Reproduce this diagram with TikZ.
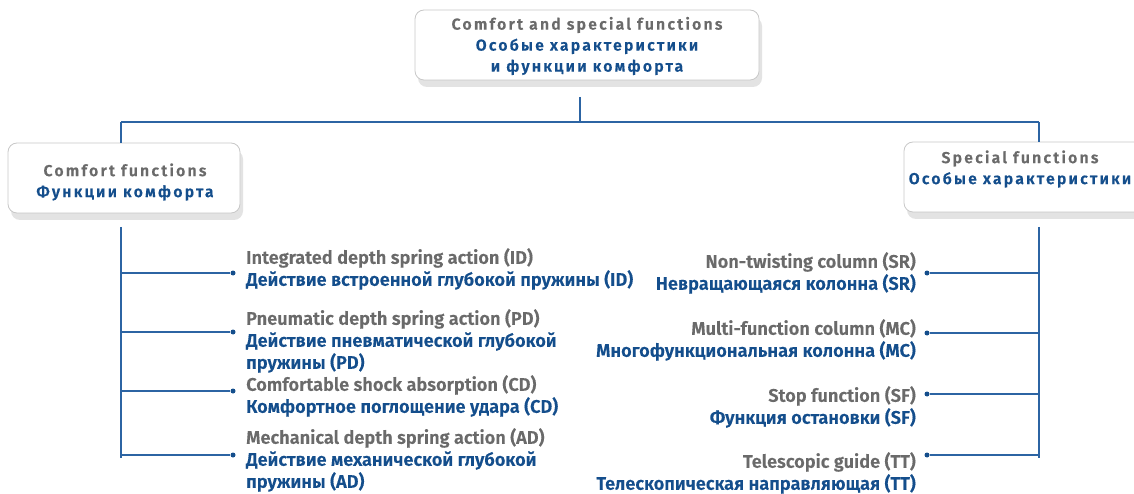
\documentclass[tikz,border=0pt]{standalone}
\usepackage{fontspec}
\setmainfont{Fira Sans}
\usetikzlibrary{shadows}
\definecolor{tblue}{HTML}{144E8C}
\definecolor{lblue}{HTML}{2C64A3}
\definecolor{tgray}{HTML}{6A6A6A}
\definecolor{bgray}{HTML}{C8C8C8}
\newfontfamily\hdrfont{Fira Sans SemiBold}[LetterSpace=14,FakeBold=0.4]
\newfontfamily\itemfont{Fira Sans SemiBold}[FakeBold=0.4]
\tikzset{
  x=1pt,y=-1pt,
  hbox/.style={draw=bgray,line width=0.8pt,rounded corners=9pt,fill=white,
    drop shadow={shadow xshift=3pt,shadow yshift=-7pt,opacity=0.18,fill=black!60}},
  htext/.style={font=\hdrfont\fontsize{15.8}{21}\selectfont,align=center,inner sep=0pt},
  itext/.style={font=\itemfont\fontsize{18.2}{22}\selectfont,inner sep=0pt},
  conn/.style={draw=lblue,line width=1.2pt},
  dotc/.style={circle,fill=tblue,inner sep=0pt,minimum size=5pt},
}
\newcommand{\en}[1]{\textcolor{tgray}{#1}}
\newcommand{\ru}[1]{\textcolor{tblue}{#1}}
\begin{document}
\begin{tikzpicture}
\useasboundingbox (0,0) rectangle (1134,494);
% boxes
\node[hbox,minimum width=344pt,minimum height=70pt] (top) at (587,45) {};
\node[htext] (toptxt) at (587,46) {\en{Comfort and special functions}\\\ru{Особые характеристики}\\\ru{и функции комфорта}};
\node[hbox,minimum width=232pt,minimum height=70pt] (left) at (124,178) {};
\node[htext] (lefttxt) at (125,182) {\en{Comfort functions}\\\ru{Функции комфорта}};
\node[hbox,minimum width=250pt,minimum height=70pt] (right) at (1029,177) {};
\node[htext] (righttxt) at (1020,169) {\en{Special functions}\\\ru{Особые характеристики}};
% tree lines
\coordinate (tb) at (580,97);
\coordinate (tj) at (580,122);
\coordinate (lj) at (121,122);
\coordinate (rj) at (1039,122);
\coordinate (ls) at (121,227);
\coordinate (le) at (121,458);
\coordinate (rs) at (1039,227);
\coordinate (re) at (1039,458);
\draw[conn] (tb) -- (tj);
\draw[conn] (lj) -- (rj);
\draw[conn] (lj) -- (lj|-left.north);
\draw[conn] (rj) -- (rj|-right.north);
\draw[conn] (ls) -- (le);
\draw[conn] (rs) -- (re);
% left items
\node[dotc] (d1) at (233,273) {};
\node[dotc] (d2) at (233,332) {};
\node[dotc] (d3) at (233,391) {};
\node[dotc] (d4) at (233,455) {};
\foreach \d in {d1,d2,d3,d4} \draw[conn] (ls|-\d) -- (\d);
\node[itext,anchor=north west,align=left] (id) at (246,248) {\en{Integrated depth spring action (ID)}\\\ru{Действие встроенной глубокой пружины (ID)}};
\node[itext,anchor=north west,align=left] (pd) at (246,309) {\en{Pneumatic depth spring action (PD)}\\\ru{Действие пневматической глубокой}\\\ru{пружины (PD)}};
\node[itext,anchor=north west,align=left] (cd) at (246,375) {\en{Comfortable shock absorption (CD)}\\\ru{Комфортное поглощение удара (CD)}};
\node[itext,anchor=north west,align=left] (ad) at (246,428) {\en{Mechanical depth spring action (AD)}\\\ru{Действие механической глубокой}\\\ru{пружины (AD)}};
% right items
\node[dotc] (e1) at (927,273) {};
\node[dotc] (e2) at (927,333) {};
\node[dotc] (e3) at (927,394) {};
\node[dotc] (e4) at (927,455) {};
\foreach \d in {e1,e2,e3,e4} \draw[conn] (\d) -- (rs|-\d);
\node[itext,anchor=north east,align=right] (sr) at (916,252) {\en{Non-twisting column (SR)}\\\ru{Невращающаяся колонна (SR)}};
\node[itext,anchor=north east,align=right] (mc) at (916,319) {\en{Multi-function column (MC)}\\\ru{Многофункциональная колонна (MC)}};
\node[itext,anchor=north east,align=right] (sf) at (916,386) {\en{Stop function (SF)}\\\ru{Функция остановки (SF)}};
\node[itext,anchor=north east,align=right] (tt) at (916,452) {\en{Telescopic guide (TT)}\\\ru{Телескопическая направляющая (TT)}};
\end{tikzpicture}
\end{document}
